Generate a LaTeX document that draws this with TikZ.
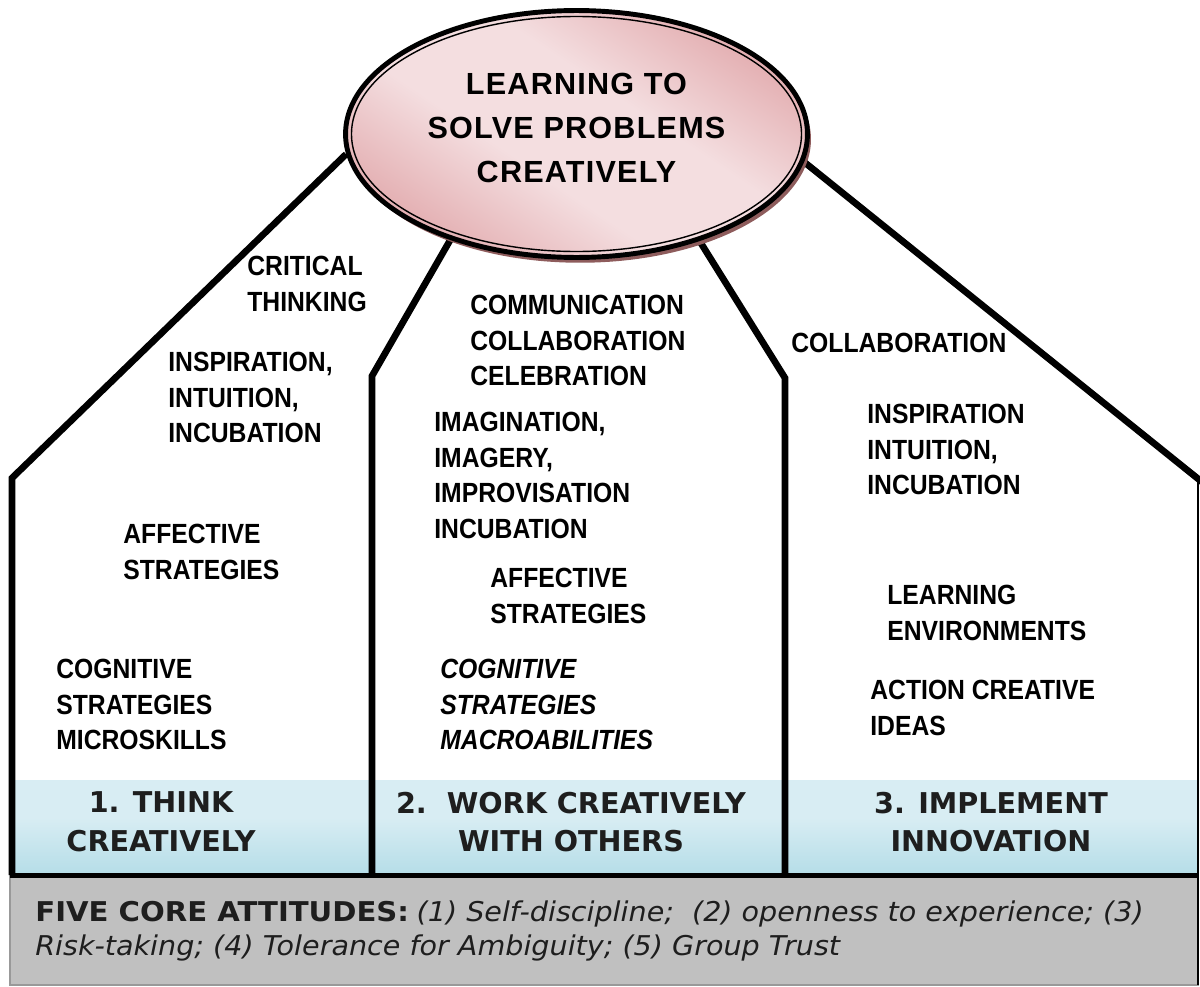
\documentclass[tikz,border=0pt]{standalone}
\usepackage{fontspec}
\setmainfont{Liberation Sans}
\newfontfamily\narrowfont[FakeStretch=0.89]{Liberation Sans}
\newfontfamily\goalfont[LetterSpace=4]{Liberation Sans}
\newfontfamily\bandfont{DejaVu Sans}
\newfontfamily\attboldfont[FakeStretch=1.07]{DejaVu Sans}
\newfontfamily\attfont[FakeStretch=1.05]{DejaVu Sans}
\usetikzlibrary{shapes,shadows,backgrounds}

\definecolor{pinkL}{HTML}{F4DEE0}
\definecolor{pinkM}{HTML}{EBC4C6}
\definecolor{pinkD}{HTML}{E2ABAE}
\definecolor{shadowred}{HTML}{8E5C5C}
\definecolor{bandtop}{HTML}{8DC9D8}
\definecolor{bandmid}{HTML}{D8EDF3}
\definecolor{bandbot}{HTML}{A3D5E2}
\definecolor{coregray}{HTML}{C0C0C0}
\definecolor{darktext}{HTML}{1E1E1E}

\pgfdeclarehorizontalshading{pinkbands}{100bp}{color(0bp)=(pinkM); color(24bp)=(pinkD); color(42bp)=(pinkL); color(58bp)=(pinkL); color(76bp)=(pinkD); color(100bp)=(pinkM)}
\pgfdeclareverticalshading{bandshade}{100bp}{color(0bp)=(bandbot); color(8bp)=(bandbot); color(55bp)=(bandmid); color(92bp)=(bandmid); color(97bp)=(bandtop); color(100bp)=(bandtop)}

\tikzset{
  lbl/.style={anchor=north west, inner sep=0pt, align=left,
    font=\narrowfont\bfseries\fontsize{15.8}{20.2}\selectfont},
  lbli/.style={lbl, font=\narrowfont\bfseries\itshape\fontsize{15.8}{20.2}\selectfont},
  bandlbl/.style={align=center, inner sep=0pt, text=darktext,
    font=\bandfont\bfseries\fontsize{16.3}{22.1}\selectfont},
  goalshape/.style={ellipse, draw, line width=2.8pt, minimum width=9.24cm,
    minimum height=4.94cm, inner sep=0pt, shade, shading=pinkbands, shading angle=56,
    general shadow={fill=shadowred, shadow xshift=2pt, shadow yshift=-3pt},
    align=center, text depth=0.26cm, font=\goalfont\bfseries\fontsize{17.4}{25}\selectfont},
  wall/.style={line width=3.8pt},
}

\begin{document}
\begin{tikzpicture}[x=0.02cm, y=-0.02cm]
  \useasboundingbox (0,0) rectangle (1200,987);

  \node[goalshape] (goal) at (576.5,134) {LEARNING TO\\SOLVE PROBLEMS\\CREATIVELY};
  \draw[line width=0.8pt] (goal.center) ellipse (225 and 117.5);

  \coordinate (lcorner) at (12,478);
  \coordinate (lfoot) at (12,875);
  \coordinate (mlcorner) at (372,376);
  \coordinate (mlfoot) at (372,875);
  \coordinate (mrcorner) at (785,378);
  \coordinate (mrfoot) at (785,875);
  \coordinate (redge) at (1212,490);
  \coordinate (rcorner) at (1198,480);
  \coordinate (rfoot) at (1198,985);

  \begin{scope}[on background layer]
    % attitudes box and coloured band
    \draw[fill=coregray, draw=gray!80, line width=0.6pt] (10,875) rectangle (1198,985);
    \shade[shading=bandshade] (15,780) rectangle (1198,873);
    \draw[wall] (goal.185) -- (lcorner) -- (lfoot);
    \draw[wall] (goal.220) -- (mlcorner) -- (mlfoot);
    \draw[wall] (goal.319) -- (mrcorner) -- (mrfoot);
    \draw[wall] (goal.353) -- (redge);
    \draw[line width=1.2pt] (rcorner) -- (rfoot);
  \end{scope}
  \draw[line width=2.8pt] (10,875.5) -- (1198,875.5);

  \node[lbl] (crit) at (247,256) {CRITICAL\\THINKING};
  \node[lbl] (insp1) at (168,352) {INSPIRATION,\\INTUITION,\\INCUBATION};
  \node[lbl] (aff1) at (123,524) {AFFECTIVE\\STRATEGIES};
  \node[lbl] (cog1) at (56,659) {COGNITIVE\\STRATEGIES\\MICROSKILLS};

  \node[lbl] (comm) at (470,295) {COMMUNICATION\\COLLABORATION\\CELEBRATION};
  \node[lbl] (imag) at (434,412) {IMAGINATION,\\IMAGERY,\\IMPROVISATION\\INCUBATION};
  \node[lbl] (aff2) at (490,568) {AFFECTIVE\\STRATEGIES};
  \node[lbli] (cog2) at (440,659) {COGNITIVE\\STRATEGIES\\MACROABILITIES};

  \node[lbl] (collab) at (791,333) {COLLABORATION};
  \node[lbl] (insp3) at (867,404) {INSPIRATION\\INTUITION,\\INCUBATION};
  \node[lbl] (learn) at (887,585) {LEARNING\\ENVIRONMENTS};
  \node[lbl] (action) at (870,680) {ACTION CREATIVE\\IDEAS};

  \node[bandlbl] (think) at (161,822) {1. THINK\\CREATIVELY};
  \node[bandlbl] (work) at (571,822) {2.\ \ WORK CREATIVELY\\WITH OTHERS};
  \node[bandlbl] (impl) at (991,822) {3. IMPLEMENT\\INNOVATION};

  \node[anchor=north west, inner sep=0pt, align=left, text=darktext,
    font=\fontsize{15.5}{19.8}\selectfont] (core) at (35,900)
    {{\attboldfont\bfseries FIVE CORE ATTITUDES:} {\attfont\itshape (1) Self-discipline;\ \ (2) openness to experience; (3)}\\
     {\attfont\itshape Risk-taking; (4) Tolerance for Ambiguity; (5) Group Trust}};
\end{tikzpicture}
\end{document}
